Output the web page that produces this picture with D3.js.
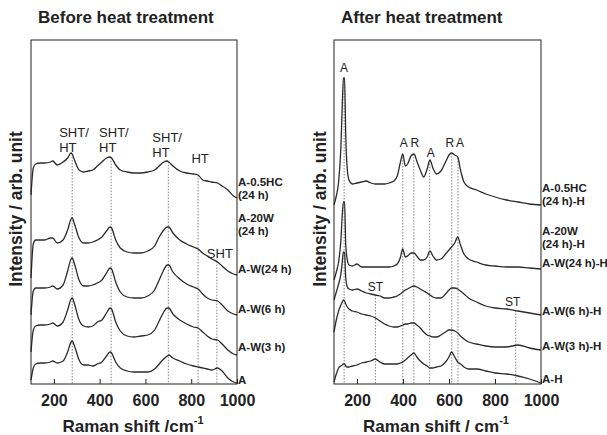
<!DOCTYPE html>
<html>
<head>
<meta charset="utf-8">
<script src="https://cdn.jsdelivr.net/npm/d3@7"></script>
<style>
  body { margin: 0; background: #fff; }
  text { font-family: Arial, "Liberation Sans", sans-serif; fill: #222; }
</style>
</head>
<body>
<div id="chart"></div>
<script>
// ---- data: Raman shift (cm-1) and intensity (arb. unit, stacked) ----
const shiftBefore = [100,110,120,140,160,185,195,215,240,260,275,280,290,310,330,350,370,390,410,430,445,452,470,490,520,550,580,610,640,660,680,695,702,720,750,780,810,830,850,870,890,915,935,960,985,1000];
const before_A     = [4,16,20,21,21,22,23,21,23,32,42,43,38,24,19,19,18,20,22,28,32,31,22,16,13,12,12,12,15,20,25,28,29,26,23,20,18,17,16,15,14,16,13,6,2,1];
const before_W3h   = [32,54,58,59,59,60,61,58,62,74,85,86,80,64,58,57,58,62,64,71,76,75,62,53,48,47,48,49,54,63,72,76,76,70,64,60,57,56,52,48,45,44,40,34,30,29];
const before_W6h   = [69,93,96,96,96,97,98,95,99,113,125,126,120,104,98,98,99,101,104,111,116,115,102,92,87,86,86,88,94,104,114,119,119,112,105,100,97,95,90,86,84,83,79,73,70,69];
const before_W24h  = [106,140,144,144,144,146,146,141,144,154,165,166,160,146,141,141,142,144,147,153,157,156,144,136,132,131,131,133,138,147,154,157,157,151,144,140,137,135,131,128,125,122,118,113,110,109];
const before_HC    = [189,216,220,221,221,222,223,219,222,226,231,230,224,214,212,213,214,218,222,226,227,226,219,214,212,211,211,212,214,218,222,223,222,218,213,211,210,209,204,203,202,201,198,194,188,186];

const shiftAfter = [100,110,120,130,136,141,146,151,158,165,180,200,220,240,260,280,300,320,340,360,375,388,399,410,420,435,448,460,475,490,505,517,530,545,565,585,600,611,625,638,650,665,685,720,760,800,850,900,950,1000];
const after_A      = [2,10,16,18,19,20,20,18,17,17,18,19,21,22,23,25,22,20,20,20,20,21,22,24,26,29,31,27,23,20,18,16,16,17,18,22,27,32,27,22,20,17,15,15,13,11,10,8,5,1];
const after_W3h    = [52,64,73,79,82,84,83,80,77,75,73,72,70,69,68,66,63,60,58,57,57,58,59,60,60,61,61,59,56,52,49,48,47,47,49,52,54,54,53,51,48,45,42,40,38,37,37,39,36,34];
const after_W6h    = [84,92,100,110,122,132,131,106,97,95,94,95,93,91,90,89,88,86,86,87,88,90,92,94,95,97,98,97,95,93,91,89,87,86,86,90,94,96,96,95,93,90,86,82,78,76,75,73,71,69];
const after_W24h   = [104,112,122,144,169,182,182,139,124,119,118,120,117,117,117,117,117,117,117,118,120,126,135,127,128,131,131,128,124,124,127,133,128,124,125,130,134,137,141,147,139,130,125,122,119,118,117,117,116,115];
const after_HC     = [179,188,202,237,279,306,306,249,214,204,200,201,202,203,201,200,200,200,201,203,208,221,230,218,220,228,230,223,214,207,215,224,216,210,213,222,229,231,229,227,214,202,197,194,190,187,184,182,180,179];

const sampleBefore = [["A-0.5HC","(24 h)"],["A-20W","(24 h)"],["A-W(24 h)"],["A-W(6 h)"],["A-W(3 h)"],["A"]];
const sampleAfter  = [["A-0.5HC","(24 h)-H"],["A-20W","(24 h)-H"],["A-W(24 h)-H"],["A-W(6 h)-H"],["A-W(3 h)-H"],["A-H"]];

// peak markers: position and text
const peaksBefore = [280, 450, 700, 830, 912];
const peakTextBefore = [["SHT/","HT"],["SHT/","HT"],["SHT/","HT"],["HT"],["SHT"]];
const peaksAfter = [144, 399, 447, 516, 612, 639, 280, 890];
const peakTextAfter = ["A","A","R","A","R","A","ST","ST"];

const ticksX = [200, 400, 600, 800, 1000];

// ---- layout ----
const plotTop = 40, plotBottom = 384;
const svg = d3.select("#chart").append("svg")
  .attr("width", 607).attr("height", 435);

const y = d3.scaleLinear().domain([0, 344]).range([plotBottom, plotTop]);

// linear lookup on a series, used to start the guide lines at a curve
function valueAt(xs, ys, v) {
  const i = Math.max(1, Math.min(xs.length - 1, d3.bisectLeft(xs, v)));
  const t = (v - xs[i-1]) / (xs[i] - xs[i-1]);
  return ys[i-1] + t * (ys[i] - ys[i-1]);
}

function panel(opt) {
  const x = d3.scaleLinear().domain([100, 1000]).range([opt.left, opt.right]);
  const g = svg.append("g");

  // guide lines
  opt.peaks.forEach(function(p, i) {
    const src = opt.guideFrom[i];
    g.append("line")
      .attr("x1", x(p)).attr("x2", x(p))
      .attr("y1", y(valueAt(opt.shift, src, p)))
      .attr("y2", plotBottom)
      .attr("stroke", "#666")
      .attr("stroke-width", 0.8)
      .attr("stroke-dasharray", "1.5,1.5");
  });

  // spectra
  const line = d3.line()
    .x(function(d, i) { return x(opt.shift[i]); })
    .y(function(d) { return y(d); })
    .curve(d3.curveMonotoneX);
  opt.series.forEach(function(s) {
    g.append("path")
      .attr("d", line(s))
      .attr("fill", "none")
      .attr("stroke", "#2b2b2b")
      .attr("stroke-width", 1.3);
  });

  // frame
  g.append("rect")
    .attr("x", opt.left).attr("y", plotTop)
    .attr("width", opt.right - opt.left).attr("height", plotBottom - plotTop)
    .attr("fill", "none").attr("stroke", "#222").attr("stroke-width", 1);

  // x axis, ticks pointing in
  const ax = g.append("g")
    .attr("transform", "translate(0," + plotBottom + ")")
    .call(d3.axisBottom(x).tickValues(ticksX).tickFormat(d3.format("d"))
      .tickSizeInner(-5).tickSizeOuter(0).tickPadding(11));
  ax.select(".domain").remove();
  ax.selectAll("line").attr("stroke", "#222");
  ax.selectAll("text")
    .style("font-size", "16px").style("font-weight", "bold")
    .attr("fill", "#222");

  // peak annotations
  opt.peakText.forEach(function(t, i) {
    const lines = Array.isArray(t) ? t : [t];
    const txt = g.append("text")
      .attr("font-size", opt.peakFont)
      .attr("text-anchor", opt.peakAnchor[i]);
    lines.forEach(function(s, j) {
      txt.append("tspan")
        .attr("x", x(opt.peaks[i]) + opt.peakDx[i])
        .attr("y", opt.peakY[i] + j * 15)
        .text(s);
    });
  });

  // sample labels at right edge
  opt.samples.forEach(function(lab, i) {
    const txt = g.append("text")
      .attr("font-size", "11.5px").attr("font-weight", "bold");
    lab.forEach(function(s, j) {
      txt.append("tspan")
        .attr("x", opt.right + 1)
        .attr("y", opt.sampleY[i] + j * 13)
        .text(s);
    });
  });

  // titles
  svg.append("text")
    .attr("x", opt.left + 7).attr("y", 23)
    .attr("font-size", "17px").attr("font-weight", "bold")
    .text(opt.title);

  const xt = svg.append("text")
    .attr("x", opt.xTitleX).attr("y", 432)
    .attr("text-anchor", "middle")
    .attr("font-size", "17px").attr("font-weight", "bold");
  xt.append("tspan").text(opt.xTitle);
  xt.append("tspan").attr("dy", -8).attr("font-size", "11px").text("-1");

  svg.append("text")
    .attr("transform", "translate(" + opt.yTitleX + ",209) rotate(-90)")
    .attr("text-anchor", "middle")
    .attr("font-size", "17.5px").attr("font-weight", "bold")
    .text("Intensity / arb. unit");
}

panel({
  left: 31, right: 237,
  shift: shiftBefore,
  series: [before_A, before_W3h, before_W6h, before_W24h, before_HC],
  peaks: peaksBefore,
  guideFrom: [before_HC, before_HC, before_HC, before_HC, before_W24h],
  peakText: peakTextBefore,
  peakFont: "13px",
  peakAnchor: ["start", "start", "start", "middle", "middle"],
  peakDx: [-13, -12, -16, 2, 3],
  peakY: [137, 137, 142, 163, 258],
  samples: sampleBefore,
  sampleY: [186, 222, 273, 313, 351, 384],
  title: "Before heat treatment",
  xTitle: "Raman shift /cm",
  xTitleX: 133,
  yTitleX: 22
});

panel({
  left: 334, right: 541,
  shift: shiftAfter,
  series: [after_A, after_W3h, after_W6h, after_W24h, after_HC],
  peaks: peaksAfter,
  guideFrom: [after_HC, after_HC, after_HC, after_HC, after_HC, after_HC, after_W6h, after_W6h],
  peakText: peakTextAfter,
  peakFont: "12px",
  peakAnchor: ["middle","middle","middle","middle","middle","middle","middle","middle"],
  peakDx: [0, 1, 1, 1, -2, 2, 0, -3],
  peakY: [72, 147, 147, 157, 147, 147, 291, 306],
  samples: sampleAfter,
  sampleY: [192, 235, 267, 315, 350, 383],
  title: "After heat treatment",
  xTitle: "Raman shift / cm",
  xTitleX: 436,
  yTitleX: 326
});
</script>
</body>
</html>
